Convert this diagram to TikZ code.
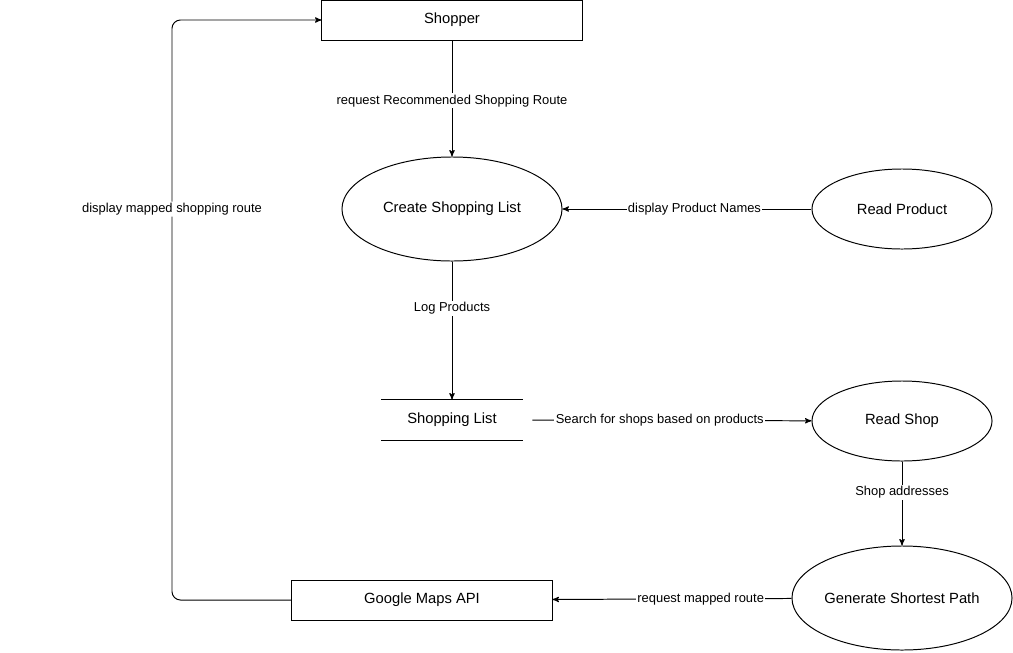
\documentclass[tikz,border=0pt]{standalone}
\usepackage{fontspec}
\setmainfont{Liberation Sans}
\usetikzlibrary{arrows}
\usetikzlibrary{calc}
\usetikzlibrary{shapes.geometric}

\tikzset{
  entity/.style={draw,rectangle,inner sep=0pt,minimum width=6.5cm,minimum height=1cm,font=\fontsize{10.5}{12}\selectfont},
  process/.style={draw,ellipse,inner sep=0pt,font=\fontsize{10.5}{12}\selectfont},
  store/.style={rectangle,inner sep=0pt,minimum width=3.5cm,minimum height=1cm,font=\fontsize{10.5}{12}\selectfont},
  flow/.style={fill=white,inner sep=1pt,font=\fontsize{9.2}{11}\selectfont}
}

\begin{document}
\begin{tikzpicture}[x=0.025cm,y=-0.025cm,line width=0.7pt]

  \useasboundingbox (0,0) rectangle (1013,652);

  \node [entity] (shopper) at (452,20) {Shopper};
  \node [process,minimum width=5.5cm,minimum height=2.6cm] (create) at (452,209) {Create Shopping List};
  \node [process,minimum width=4.5cm,minimum height=2cm] (read_prod) at (902,209) {Read Product};
  \node [store] (list) at (452,420) {Shopping List};
  \node [process,minimum width=4.5cm,minimum height=2cm] (read_shop) at (902,421) {Read Shop};
  \node [process,minimum width=5.5cm,minimum height=2.6cm] (shortest) at (902,598) {Generate Shortest Path};
  \node [entity] (maps) at (422,600) {Google Maps API};

  \draw (list.north west) -- (list.north east);
  \draw (list.south west) -- (list.south east);

  \coordinate (bend_low) at (172,600);
  \coordinate (bend_up) at (172,20);

  \draw [->,>=stealth',rounded corners=6pt] (maps.west) -- (bend_low) -- node [flow,pos=0.674] {display mapped shopping route} (bend_up) -- (shopper.west);

  \path [draw,->,>=stealth']
    (shopper)   edge node [flow,pos=0.52] {request Recommended Shopping Route} (create)
    (read_prod) edge node [flow,pos=0.47] {display Product Names} (create)
    (create)    edge node [flow,pos=0.34] {Log Products} (list.north)
    (list)      edge [shorten <=7pt] node [flow,pos=0.475] {Search for shops based on products} (read_shop)
    (read_shop) edge node [flow,pos=0.37] {Shop addresses} (shortest)
    (shortest)  edge node [flow,pos=0.38] {request mapped route} (maps);
\end{tikzpicture}
\end{document}
